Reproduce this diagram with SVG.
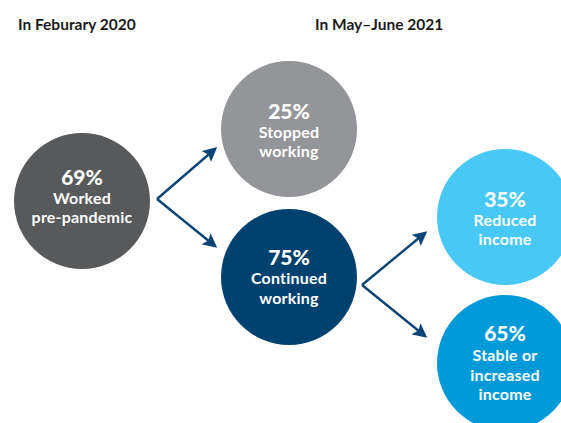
<svg xmlns="http://www.w3.org/2000/svg" width="561" height="423" viewBox="0 0 561 423">
<style>
.hdr{font-family:Lato,"Noto Sans",sans-serif;font-weight:700;font-size:15.5px;fill:#1a1a1a}
.pct{font-family:Lato,"Noto Sans",sans-serif;font-weight:900;font-size:21px;fill:#fff;text-anchor:middle}
.lbl{font-family:Lato,"Noto Sans",sans-serif;font-weight:700;font-size:16px;letter-spacing:0.2px;fill:#fff;text-anchor:middle}
.conn{fill:none;stroke:#0c4575;stroke-width:2.4;marker-end:url(#ah)}
</style>
<defs>
<marker id="ah" viewBox="0 0 10 10" refX="8" refY="5" markerWidth="6" markerHeight="6" orient="auto" markerUnits="strokeWidth">
<path d="M0,0 L10,5 L0,10 L2,5 Z" fill="#0c4575"/>
</marker>
</defs>
<rect width="561" height="423" fill="#fff"/>
<text class="hdr" x="18" y="30">In Feburary 2020</text>
<text class="hdr" x="315" y="30">In May–June 2021</text>
<g id="connectors">
<path class="conn" d="M157,199 L215,149"/>
<path class="conn" d="M157,199 L215,246"/>
<path class="conn" d="M362,285 L425,233"/>
<path class="conn" d="M362,285 L425,336"/>
</g>
<g id="n69">
<circle cx="82" cy="201" r="68" fill="#58595b"/>
<text class="pct" x="82" y="185">69%</text>
<text class="lbl" x="82" y="204">Worked</text>
<text class="lbl" x="82" y="223">pre-pandemic</text>
</g>
<g id="n25">
<circle cx="289" cy="129" r="68" fill="#939598"/>
<text class="pct" x="289" y="119">25%</text>
<text class="lbl" x="289" y="138">Stopped</text>
<text class="lbl" x="289" y="157">working</text>
</g>
<g id="n75">
<circle cx="289" cy="277" r="68" fill="#00416f"/>
<text class="pct" x="289" y="265">75%</text>
<text class="lbl" x="289" y="284">Continued</text>
<text class="lbl" x="289" y="304">working</text>
</g>
<g id="n35">
<circle cx="505" cy="217" r="68" fill="#48c8f5"/>
<text class="pct" x="505" y="207">35%</text>
<text class="lbl" x="505" y="226">Reduced</text>
<text class="lbl" x="505" y="245">income</text>
</g>
<g id="n65">
<circle cx="505" cy="363" r="68" fill="#009ad9"/>
<text class="pct" x="505" y="341">65%</text>
<text class="lbl" x="505" y="361">Stable or</text>
<text class="lbl" x="505" y="381">increased</text>
<text class="lbl" x="505" y="400">income</text>
</g>
</svg>
